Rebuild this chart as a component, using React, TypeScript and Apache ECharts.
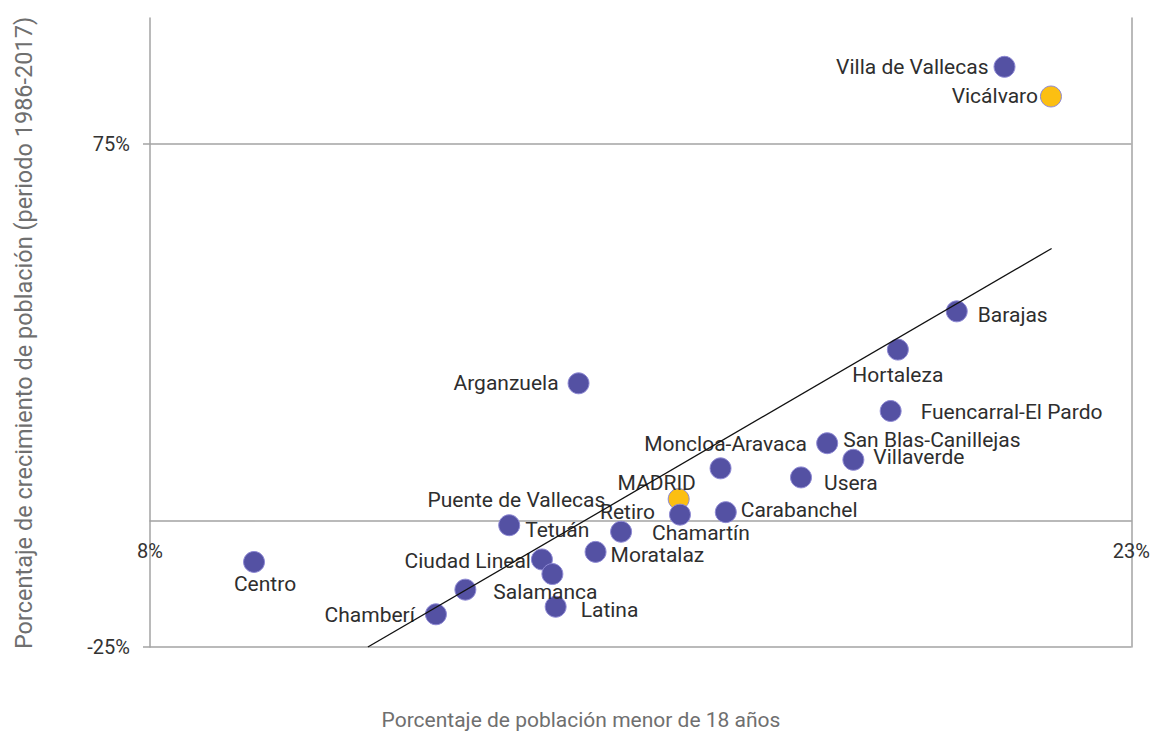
import React, { useEffect, useRef } from "react";
import * as echarts from "echarts";

// Data
const districts: string[] = [
  "Villa de Vallecas", "Vicálvaro", "Barajas", "Hortaleza", "Fuencarral-El Pardo",
  "San Blas-Canillejas", "Villaverde", "Moncloa-Aravaca", "Usera", "MADRID",
  "Retiro", "Carabanchel", "Chamartín", "Arganzuela", "Tetuán",
  "Ciudad Lineal", "Salamanca", "Puente de Vallecas", "Moratalaz", "Latina",
  "Chamberí", "Centro",
];
const pctUnder18: number[] = [
  21.06, 21.77, 20.33, 19.43, 19.32,
  18.35, 18.75, 16.72, 17.95, 16.08,
  16.10, 16.80, 15.20, 14.55, 13.49,
  13.99, 14.15, 12.82, 14.81, 14.20,
  12.37, 9.59,
];
const growth: number[] = [
  90.3, 84.4, 41.7, 34.1, 21.9,
  15.5, 12.2, 10.5, 8.7, 4.4,
  1.3, 1.8, -2.1, 27.4, -0.8,
  -7.6, -10.5, -13.6, -6.1, -17.0,
  -18.5, -8.1,
];
const highlighted: string[] = ["Vicálvaro", "MADRID"];
const trendX: number[] = [11.33, 21.78];
const trendY: number[] = [-25, 54.2];
const xTicks: number[] = [8, 23];
const yTicks: number[] = [-25, 75];
const yMin = -25;
const yMax = 100;

// Label placement (style only): [position, distance, offsetX, offsetY]
const labelPlacement: Record<string, [string, number, number, number]> = {
  "Villa de Vallecas": ["left", 5, 0, 0],
  "Vicálvaro": ["left", 2, 0, 0],
  "Barajas": ["right", 10, 0, 4],
  "Hortaleza": ["bottom", 4, 0, 0],
  "Fuencarral-El Pardo": ["right", 19, 0, 1],
  "San Blas-Canillejas": ["right", 5, 0, -3],
  "Villaverde": ["right", 9, 0, -3],
  "Moncloa-Aravaca": ["top", 3, 5, 0],
  "Usera": ["right", 12, 0, 6],
  "MADRID": ["top", 0, -22, 5],
  "Retiro": ["left", 14, 0, -3],
  "Carabanchel": ["right", 4, 0, -2],
  "Chamartín": ["right", 20, 0, 1],
  "Arganzuela": ["left", 9, 0, 0],
  "Tetuán": ["right", 5, 0, 5],
  "Ciudad Lineal": ["left", 0, 0, 2],
  "Salamanca": ["bottom", 0, -7, -4],
  "Puente de Vallecas": ["top", 0, 51, -68],
  "Moratalaz": ["right", 4, 0, 3],
  "Latina": ["right", 14, 0, 3],
  "Chamberí": ["left", 10, 0, 1],
  "Centro": ["bottom", 1, 11, 0],
};

const FONT = "Roboto, 'DejaVu Sans', sans-serif";
const GRID_TOP = 18;
const GRID_BOTTOM = 87;
const HEIGHT = 734;

export default function App() {
  const ref = useRef<HTMLDivElement>(null);
  useEffect(() => {
    if (!ref.current) return;
    const chart = echarts.init(ref.current, undefined, { renderer: "svg" });
    const gridH = HEIGHT - GRID_TOP - GRID_BOTTOM;
    const zeroOffset = -(gridH * (0 - yMin)) / (yMax - yMin);
    const points = districts.map((name, i) => {
      const p = labelPlacement[name] || ["right", 5, 0, 0];
      const hi = highlighted.includes(name);
      return {
        name,
        value: [pctUnder18[i], growth[i]],
        itemStyle: { color: hi ? "#fcbf12" : "#5451a3" },
        label: {
          position: p[0],
          distance: p[1],
          offset: [p[2], p[3]],
        },
      };
    });
    chart.setOption({
      animation: false,
      textStyle: { fontFamily: FONT },
      grid: { left: 150, right: 20, top: GRID_TOP, bottom: GRID_BOTTOM },
      xAxis: {
        type: "value",
        min: 8,
        max: 23,
        position: "bottom",
        offset: zeroOffset,
        axisLine: { show: true, onZero: false, lineStyle: { color: "#a3a3a3", width: 1.5 } },
        axisTick: { show: false },
        splitLine: { show: false },
        axisLabel: {
          customValues: xTicks,
          formatter: (v: number) => `${v}%`,
          color: "#333",
          fontSize: 20,
          fontFamily: FONT,
          margin: 20,
        },
      },
      yAxis: [
        {
          type: "value",
          min: yMin,
          max: yMax,
          axisLine: { show: true, onZero: false, lineStyle: { color: "#a3a3a3", width: 1.5 } },
          axisTick: { show: true, customValues: yTicks, length: 7, lineStyle: { color: "#a3a3a3", width: 1.5 } },
          splitLine: { show: true, lineStyle: { color: "#a3a3a3", width: 1.5 } },
          axisLabel: {
            customValues: yTicks,
            formatter: (v: number) => `${v}%`,
            color: "#333",
            fontSize: 20,
            fontFamily: FONT,
            margin: 20,
          },
        },
        {
          type: "value",
          min: yMin,
          max: yMax,
          position: "right",
          axisLine: { show: true, onZero: false, lineStyle: { color: "#a3a3a3", width: 1.5 } },
          axisTick: { show: false },
          axisLabel: { show: false },
          splitLine: { show: false },
        },
      ],
      series: [
        {
          type: "scatter",
          symbol: "circle",
          symbolSize: 21,
          z: 2,
          itemStyle: { borderColor: "#8e89d4", borderWidth: 1, opacity: 1 },
          label: {
            show: true,
            formatter: "{b}",
            color: "#2e2e2e",
            fontSize: 21,
            fontFamily: FONT,
          },
          data: points,
        },
        {
          type: "line",
          z: 3,
          symbol: "none",
          silent: true,
          lineStyle: { color: "#111", width: 1.3 },
          data: trendX.map((x, i) => [x, trendY[i]]),
        },
      ],
      graphic: [
        {
          type: "text",
          x: 581,
          y: 720,
          style: {
            text: "Porcentaje de población menor de 18 años",
            fill: "#6f6f6f",
            fontSize: 21,
            fontFamily: FONT,
            align: "center",
            verticalAlign: "middle",
          },
        },
        {
          type: "text",
          x: 24,
          y: 333,
          rotation: Math.PI / 2,
          style: {
            text: "Porcentaje de crecimiento de población (periodo 1986-2017)",
            fill: "#6f6f6f",
            fontSize: 23.5,
            fontFamily: FONT,
            align: "center",
            verticalAlign: "middle",
          },
        },
      ],
    });
    return () => chart.dispose();
  }, []);
  return <div ref={ref} style={{ width: 1153, height: 734, position: "absolute", left: 0, top: 0 }} />;
}
